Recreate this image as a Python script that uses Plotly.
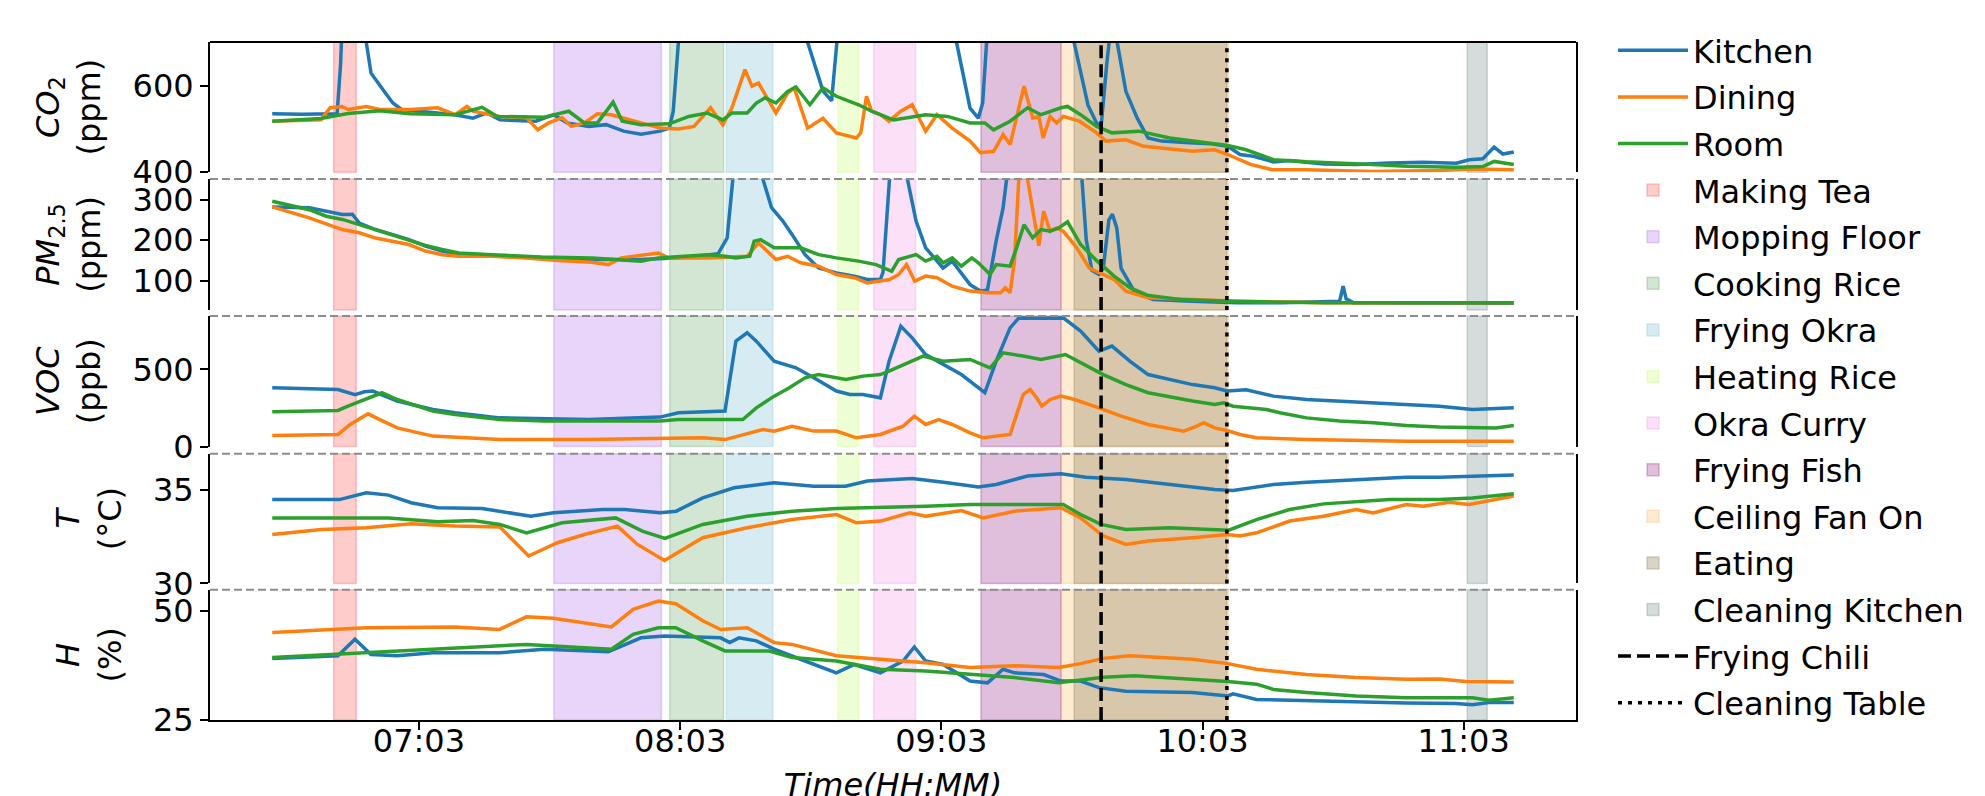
import pandas as pd
import plotly.graph_objects as go

BASE = pd.Timestamp("2023-01-01")


def to_time(minutes):
    return [BASE + pd.Timedelta(minutes=float(m)) for m in minutes]


# ---------------- data (time in minutes after midnight, value) ----------------
SERIES_NAMES = ["Kitchen", "Dining", "Room"]
SERIES_COLORS = ["#1f77b4", "#ff7f0e", "#2ca02c"]

CO2_KITCHEN = [[389.3, 535], [396, 534], [404.2, 535], [405.0, 650], [406.5, 1050], [409, 980], [410.9, 700],
               [412, 629], [415, 587], [417, 560], [419, 545], [425, 540], [431.3, 533], [435.4, 525],
               [438.6, 537], [441.6, 521], [449.8, 518], [454, 533], [457, 514], [462, 506], [466, 510],
               [470, 495], [474, 488], [478.4, 495], [480.5, 502], [481.4, 540], [482.6, 700], [485, 1200],
               [500, 1400], [510, 900], [512.3, 700], [515.8, 588], [517.8, 565], [519, 700], [520.5, 900],
               [530, 1200], [545, 900], [546.5, 700], [549.6, 548], [551.5, 525], [552.5, 560], [553.4, 700],
               [555, 1100], [570, 1000], [573.5, 700], [576.7, 555], [578.6, 515], [579.7, 505], [581, 650],
               [582.2, 760], [583.4, 700], [585.4, 587], [588, 525], [590.5, 479], [593.6, 472], [600, 468],
               [605, 466], [608.8, 460], [611.6, 441], [614.7, 437], [619.3, 424], [623, 427], [630.8, 419],
               [638.3, 418], [645.9, 421.5], [653.7, 423], [661.3, 421], [664.3, 429], [667.4, 431],
               [670, 458], [672, 442], [674.5, 447]]
CO2_DINING = [[389.3, 518], [400.5, 521.5], [402.6, 549], [405.3, 552], [406.7, 545], [410.9, 552], [414, 545],
              [421, 545], [427.3, 549], [431.3, 533], [434, 552], [435.4, 541], [441.6, 529], [447.7, 526],
              [450.3, 498], [452.8, 514], [455.9, 526], [458, 506], [461, 514], [464, 535], [467.2, 533],
              [472.3, 518], [478.4, 502], [482.6, 500], [486.2, 506], [488.2, 529], [490, 549], [492.8, 510],
              [494.9, 549], [497.9, 637], [499.5, 599], [501, 606], [502.5, 579], [505, 537], [507.7, 583],
              [509.2, 595], [512.3, 502], [515.8, 525], [518.9, 491], [523.5, 479], [524.5, 491], [525.8, 575.5],
              [527, 541], [529, 533], [531, 518], [533.7, 541], [536.3, 556], [539.4, 495], [542, 533],
              [545.5, 502], [549.6, 472], [552, 445], [555, 448.5], [557.2, 487], [558.8, 464], [560.3, 525],
              [562, 599], [564, 525], [565.4, 529], [566.4, 479], [568, 529], [569.5, 514], [571, 529],
              [574.7, 518], [578.7, 491], [580.8, 472], [585.4, 475], [589.5, 460], [593.6, 456], [600.7, 448.5],
              [605.8, 452], [608.8, 441], [614, 418], [619, 406], [626.9, 406], [642, 402], [657.4, 404],
              [665, 407.6], [674.5, 406]]
CO2_ROOM = [[389.3, 518], [400.5, 524], [406.7, 535.5], [414, 542], [421, 535], [431.3, 533], [437.5, 550],
            [441, 529], [451.8, 527], [457.4, 541], [461, 514], [464, 514], [467.6, 562], [469.7, 518],
            [474, 510], [480.5, 512], [485, 529], [489.2, 537], [492.8, 521], [494.9, 537], [498.4, 537],
            [500.5, 560], [502.5, 572], [505, 560], [507.7, 587], [509.6, 597], [512.8, 556], [515.8, 595],
            [518.9, 575.5], [524, 556], [527, 541], [532, 521], [539.4, 533], [544.4, 529], [549.6, 514],
            [553, 514], [555, 498], [558.8, 518], [562.8, 549], [565.9, 533], [570.5, 549], [572, 552],
            [575, 533], [578.7, 506], [582.2, 491], [588.4, 495], [595.5, 479], [608.8, 462], [613, 452],
            [619.3, 429], [626.9, 424], [634.5, 420], [642, 418], [649.9, 414], [661.3, 411.6], [667.4, 413],
            [670, 425], [674.5, 418]]

PM_KITCHEN = [[389.3, 282], [397.8, 280], [405.4, 263], [407.7, 264], [409.3, 242], [413, 226], [416.8, 214],
              [420.7, 201], [424.5, 185], [428.3, 173], [432.2, 164], [443.6, 160], [451.2, 156], [462.7, 152],
              [474, 152], [481.8, 156], [488.2, 162], [491.7, 166], [493.8, 205], [494.9, 330], [496, 450],
              [500, 500], [502, 351], [504, 280], [506.6, 247], [508.7, 214], [511.7, 164], [514.8, 131],
              [518.9, 119], [523, 111], [526, 102.5], [529, 102.5], [529.6, 120], [531.1, 351], [533, 450],
              [535.2, 351], [537.2, 247], [539.4, 181], [541.4, 156], [543.4, 131], [545.5, 148], [549.6, 90],
              [552, 74], [553.6, 77], [555.6, 198], [557.2, 280], [558, 351], [560, 500], [574, 450],
              [575.3, 351], [576.3, 200], [577.6, 125], [579.2, 115], [580.2, 131], [581.5, 250], [582.3, 264],
              [583.3, 230], [584.3, 130], [587.3, 74], [591.6, 53], [600.7, 49], [610.9, 45], [621.2, 45],
              [634.5, 49], [635.3, 86], [636, 55], [637.7, 45], [674.5, 44]]
PM_DINING = [[389.3, 282], [397.8, 255], [405.4, 226], [409.3, 218], [413, 205], [416.8, 197], [420.7, 189],
             [424.5, 173], [428.3, 164], [432.2, 160], [439.8, 160], [447.5, 156], [455, 149.5], [462.7, 145],
             [466.5, 139.5], [469.5, 156], [478, 168], [480.3, 156], [489.5, 156], [498.4, 160], [501, 193],
             [505, 152], [507.7, 160], [510.7, 144], [514.8, 135.5], [518.9, 115], [523, 107], [526, 94],
             [531.1, 102.5], [533.2, 115], [535, 139.5], [536.9, 98.5], [539.4, 111], [542, 107], [545.5, 86],
             [549.6, 74], [553.6, 70], [556.6, 70], [557.7, 82], [558.8, 70], [559.8, 148], [560.8, 351],
             [561.8, 380], [562.8, 351], [564, 280], [565.4, 186], [566.5, 271], [568, 222], [569.5, 230],
             [571, 222], [574.1, 181], [577, 131], [580.2, 115], [582.7, 102.5], [585.4, 74], [588.6, 65],
             [590.5, 57.5], [600.7, 53], [610.9, 49], [631.4, 45], [674.5, 45]]
PM_ROOM = [[389.3, 296], [397.8, 275], [401.7, 259], [405.4, 251], [409.3, 238], [413, 226], [416.8, 212],
           [420.7, 201], [424.5, 187], [428.3, 177], [432.2, 168], [439.8, 164], [451.2, 158], [462.7, 156],
           [470.3, 152], [474, 148], [478, 156], [489.5, 164], [493.3, 160], [495.8, 156], [499, 160],
           [500, 197], [501.5, 201], [504.6, 181], [510.7, 181], [514.8, 164], [518.9, 156], [524, 148],
           [528, 139.5], [531.6, 123], [533.2, 152], [537.2, 164], [539.4, 148], [542, 160], [543.4, 144],
           [545.5, 156], [547.6, 135.5], [550, 156], [551.5, 144], [554.2, 115], [555.6, 139.5], [558.8, 135.5],
           [560.3, 181], [562, 238], [564, 205.5], [565.9, 226], [568, 222], [570, 230], [572, 245], [575, 189],
           [578.8, 148], [582.7, 111], [586.4, 82], [590.3, 64], [597.8, 53], [609.3, 49], [631.4, 45],
           [674.5, 45]]

VOC_KITCHEN = [[389.3, 381], [404.4, 370], [408.3, 337], [410.5, 355], [412.4, 360], [418, 295], [426.2, 240],
               [431.3, 219], [441.6, 186], [451.8, 182], [462, 175], [478.4, 191], [482.6, 219], [493.3, 230],
               [495.8, 684], [498.4, 738], [500.5, 684], [504.6, 554], [509.6, 511], [513.7, 446], [518.9, 360],
               [522, 338], [525, 338], [529, 316], [531, 554], [533.7, 781], [536.3, 705], [539.4, 597],
               [543.4, 532], [547.6, 467], [553, 349], [555.6, 554], [558.8, 770], [560.8, 835], [564.9, 832],
               [571, 835], [575, 749], [579.2, 619], [582.2, 652], [586.3, 554], [590.5, 467], [595.5, 435],
               [600.7, 402], [605.8, 381], [608.6, 360], [613, 368], [619.3, 327], [626.9, 305], [634.5, 295],
               [642.2, 284], [649.8, 273], [657.4, 262], [665, 240], [672.6, 251], [674.5, 251]]
VOC_DINING = [[389.3, 71], [404.4, 78], [407.2, 143], [411.3, 212], [414, 175], [418, 121], [426.2, 67.5],
              [441.6, 45], [462, 45], [482.6, 56.5], [488.2, 56.5], [493.3, 45], [502, 110], [504.6, 100],
              [508.7, 132], [513.7, 100], [518.9, 100], [523.5, 56.5], [529, 78], [534.2, 132], [536.8, 197],
              [539.4, 143], [542.4, 175], [545.5, 143], [549.6, 89], [552.6, 56.5], [558.8, 78], [559.8, 165],
              [561.8, 337], [563.4, 370], [564.9, 316], [566.1, 262], [568, 305], [570.5, 327], [573.6, 305],
              [579.2, 251], [584.3, 197], [590.5, 143], [598.7, 100], [601.7, 132], [603.3, 154], [605.8, 121],
              [608.6, 104], [611.6, 78], [615.4, 56.5], [626.9, 45], [649.8, 35], [674.5, 35]]
VOC_ROOM = [[389.3, 225], [404.4, 234], [406.7, 262], [410, 300], [414.5, 349], [418, 305], [426.2, 230],
            [431.3, 208], [441.6, 175], [451.8, 165], [478.4, 165], [482.6, 175], [488.2, 175], [497.4, 175],
            [500.5, 251], [504.6, 327], [508, 380], [511.7, 446], [514.8, 467], [521.1, 435], [525, 457],
            [529, 467], [531, 489], [535.2, 543], [538.8, 587], [543.4, 554], [549.6, 565], [554.2, 511],
            [557.2, 608], [561.8, 587], [565.9, 565], [571.5, 597], [575, 543], [580.2, 467], [585.4, 402],
            [590.5, 349], [600.7, 295], [605.8, 273], [607.9, 284], [610, 262], [617.7, 240], [620.8, 219],
            [626.9, 186], [634.5, 165], [642.2, 154], [649.8, 136], [657.4, 126], [665, 126], [670.4, 121],
            [674.5, 136]]

T_KITCHEN = [[389.3, 34.49], [404.7, 34.49], [410.9, 34.85], [416, 34.73], [421.2, 34.32], [427.3, 34.05],
             [437.5, 34.01], [441.6, 33.87], [448.7, 33.6], [453.9, 33.78], [465.2, 33.96], [470.3, 33.96],
             [478.4, 33.78], [482.1, 33.87], [488.2, 34.58], [495.4, 35.12], [504.6, 35.39], [513.7, 35.21],
             [521, 35.21], [526, 35.48], [536.3, 35.62], [544.4, 35.39], [551.5, 35.17], [555.6, 35.3],
             [562.8, 35.75], [570.5, 35.87], [576.2, 35.69], [585.4, 35.56], [595.5, 35.3], [605.8, 35.03],
             [610, 34.98], [619.3, 35.3], [626.9, 35.42], [634.5, 35.51], [642.2, 35.56], [649.8, 35.69],
             [657.4, 35.69], [665, 35.75], [674.5, 35.8]]
T_DINING = [[389.3, 32.62], [400.6, 32.89], [410.9, 32.98], [421.2, 33.19], [431.3, 33.07], [441.6, 33.02],
            [448.2, 31.47], [454.8, 32.18], [461, 32.62], [468.6, 33.07], [473.2, 32.09], [479.4, 31.23],
            [488.2, 32.45], [498.4, 32.98], [508.7, 33.42], [518.9, 33.69], [523.5, 33.25], [529, 33.34],
            [535.8, 33.78], [539.4, 33.6], [547.6, 33.9], [552.6, 33.51], [559.8, 33.87], [570.5, 34.05],
            [575, 33.51], [580.2, 32.54], [585.4, 32.09], [590.5, 32.27], [600.7, 32.45], [608.8, 32.62],
            [611.6, 32.54], [615.4, 32.71], [623, 33.34], [630.8, 33.6], [638.3, 33.96], [642.2, 33.78],
            [649.8, 34.23], [653.7, 34.14], [659.7, 34.35], [664.3, 34.23], [674.5, 34.68]]
T_ROOM = [[389.3, 33.51], [416, 33.51], [427.3, 33.3], [435.4, 33.37], [441.6, 33.16], [447.7, 32.71],
          [455.9, 33.25], [468.2, 33.51], [474.3, 32.8], [479.5, 32.41], [488.2, 33.16], [498.4, 33.6],
          [508.7, 33.87], [518.9, 34.01], [539.4, 34.14], [549.6, 34.23], [571, 34.23], [575, 33.69],
          [579.7, 33.16], [585.4, 32.89], [595.5, 32.98], [609, 32.85], [615.4, 33.42], [623, 33.96],
          [630.8, 34.26], [638.3, 34.37], [646, 34.49], [657.4, 34.49], [665, 34.58], [674.5, 34.8]]

H_KITCHEN = [[389.3, 39.1], [404.4, 39.7], [408.3, 43.5], [412, 40.0], [418, 39.7], [426.2, 40.4],
             [441.6, 40.4], [451.8, 41.2], [466.5, 40.6], [474, 43.8], [479.4, 44.2], [482, 44.1],
             [492.3, 43.8], [494.4, 42.7], [496.5, 43.8], [500.5, 43.1], [504.6, 41.2], [511.7, 38.5],
             [518.9, 35.8], [523, 37.7], [529, 35.8], [534.2, 38.5], [536.8, 41.7], [539.4, 38.5],
             [543.4, 37.7], [549.6, 33.9], [553.6, 33.5], [557.2, 36.6], [559.8, 35.8], [566.5, 35.4],
             [570.5, 33.9], [575, 33.9], [579.2, 32.4], [585.4, 31.6], [600.7, 31.3], [608.8, 30.5],
             [610, 31.0], [615.4, 29.7], [626.9, 29.4], [638.3, 29.0], [649.8, 28.9], [661.3, 28.8],
             [665, 28.5], [668.8, 29.0], [674.5, 29.0]]
H_DINING = [[389.3, 45.0], [410.9, 46.1], [431.3, 46.3], [441.4, 45.7], [447.7, 48.6], [453.9, 48.3],
            [467.2, 46.3], [472.2, 50.3], [478, 52.2], [482, 51.6], [488.2, 47.7], [492.3, 45.7], [498.4, 46.1],
            [504.6, 42.7], [508.7, 42.3], [518.9, 39.7], [529, 38.9], [539.4, 38.1], [549.6, 37.0],
            [559.8, 37.4], [570, 37.0], [575, 37.9], [580.2, 39.1], [586.3, 39.7], [600.7, 38.9], [608.8, 37.9],
            [615.4, 36.6], [626.9, 35.4], [638.3, 34.7], [649.8, 34.3], [657.4, 34.4], [663.5, 33.8],
            [674.5, 33.7]]
H_ROOM = [[389.3, 39.3], [410.9, 40.4], [431.3, 41.6], [447.7, 42.3], [467.2, 41.2], [472.2, 44.6],
          [478, 46.1], [482, 46.1], [488.2, 43.1], [493.3, 40.8], [503.5, 40.8], [508.7, 39.3], [518.9, 38.5],
          [529, 36.6], [539.4, 36.2], [549.6, 35.4], [559.8, 34.7], [570, 33.5], [580.2, 34.8], [587.4, 35.1],
          [600.7, 34.3], [608.8, 33.8], [615.4, 33.2], [619.3, 32.0], [626.9, 31.3], [638.3, 30.5],
          [649.8, 30.1], [665, 30.1], [668.8, 29.5], [674.5, 30.1]]

PANEL_TITLES = ["<i>CO</i><sub>2</sub><br>(ppm)", "<i>PM</i><sub>2.5</sub><br>(ppm)", "<i>VOC</i><br>(ppb)",
                "<i>T</i><br>(°C)", "<i>H</i><br>(%)"]
PANEL_RANGES = [[400, 701], [27.6, 351], [0, 848], [30, 36.94], [25, 54.8]]
PANEL_TICKS = [[400, 600], [100, 200, 300], [0, 500], [30, 35], [25, 50]]
PANEL_DATA = [[CO2_KITCHEN, CO2_DINING, CO2_ROOM], [PM_KITCHEN, PM_DINING, PM_ROOM],
              [VOC_KITCHEN, VOC_DINING, VOC_ROOM], [T_KITCHEN, T_DINING, T_ROOM],
              [H_KITCHEN, H_DINING, H_ROOM]]

EVENT_NAMES = ["Making Tea", "Mopping Floor", "Cooking Rice", "Frying Okra", "Heating Rice", "Okra Curry",
               "Frying Fish", "Ceiling Fan On", "Eating", "Cleaning Kitchen"]
EVENT_START = [403.4, 454.0, 480.6, 493.6, 519.2, 527.5, 552.1, 570.5, 573.5, 663.8]
EVENT_END = [408.6, 478.7, 493.0, 504.3, 524.0, 537.1, 570.5, 609.0, 608.6, 668.4]
EVENT_COLORS = ["rgba(255,0,0,0.2)", "rgba(138,43,226,0.2)", "rgba(20,120,20,0.19)", "rgba(173,216,230,0.5)",
                "rgba(173,255,47,0.2)", "rgba(240,100,215,0.2)", "rgba(128,0,110,0.25)",
                "rgba(255,150,30,0.2)", "rgba(160,147,112,0.4)", "rgba(47,79,79,0.2)"]

MARKER_NAMES = ["Frying Chili", "Cleaning Table"]
MARKER_TIMES = [579.7, 608.6]
MARKER_DASH = ["13px,6px", "4px,6px"]

X_RANGE = [375.0, 688.8]
X_TICKS = [423, 483, 543, 603, 663]
X_TICK_LABELS = ["07:03", "08:03", "09:03", "10:03", "11:03"]

FONT = "DejaVu Sans"

# ---------------- layout geometry ----------------
TOP_PX, BOTTOM_PX, H_PX = 34, 712.3, 796
PLOT_H = BOTTOM_PX - TOP_PX
PANEL_PX = [(34, 164.3), (171, 302), (308, 438.7), (446, 575.7), (582, 712.3)]


def frac(px):
    return 1 - (px - TOP_PX) / PLOT_H


fig = go.Figure()

for i, series_list in enumerate(PANEL_DATA):
    yname = "y" if i == 0 else f"y{i + 1}"
    for j, pts in enumerate(series_list):
        fig.add_trace(go.Scatter(
            x=to_time([p[0] for p in pts]), y=[p[1] for p in pts],
            mode="lines", line=dict(color=SERIES_COLORS[j], width=3.5),
            name=SERIES_NAMES[j], legendgroup=SERIES_NAMES[j], showlegend=(i == 0),
            legendrank=j + 1, xaxis="x", yaxis=yname, hoverinfo="skip"))

shapes = []
for i in range(5):
    yref = "y domain" if i == 0 else f"y{i + 1} domain"
    for k, name in enumerate(EVENT_NAMES):
        shapes.append(dict(type="rect", xref="x", yref=yref,
                           x0=BASE + pd.Timedelta(minutes=EVENT_START[k]),
                           x1=BASE + pd.Timedelta(minutes=EVENT_END[k]), y0=0, y1=1,
                           fillcolor=EVENT_COLORS[k], line=dict(color=EVENT_COLORS[k], width=1.5),
                           layer="below", name=name, showlegend=(i == 0), legendrank=4 + k,
                           legendgroup=name))
    for k, name in enumerate(MARKER_NAMES):
        t = BASE + pd.Timedelta(minutes=MARKER_TIMES[k])
        shapes.append(dict(type="line", xref="x", yref=yref, x0=t, x1=t, y0=0, y1=1,
                           line=dict(color="black", width=3.5, dash=MARKER_DASH[k]),
                           layer="above", name=name, showlegend=(i == 0), legendrank=14 + k,
                           legendgroup=name))
    if i > 0:
        shapes.append(dict(type="line", xref="paper", yref=yref, x0=0, x1=1, y0=1, y1=1,
                           line=dict(color="#8c8c8c", width=2, dash="8px,4px"), layer="above"))
shapes.append(dict(type="line", xref="paper", yref="y domain", x0=0, x1=1, y0=1, y1=1,
                   line=dict(color="black", width=2), layer="above"))

LEGEND_ITEMWIDTH = 70
layout = dict(
    width=1985, height=H_PX, template="none",
    paper_bgcolor="white", plot_bgcolor="white",
    margin=dict(l=202, r=417, t=TOP_PX, b=H_PX - BOTTOM_PX, pad=0),
    font=dict(family=FONT, size=32, color="black"),
    showlegend=True,
    legend=dict(x=(1693 - 18 - LEGEND_ITEMWIDTH - 202) / 1366, y=1.028, xanchor="left", yanchor="top",
                font=dict(family=FONT, size=32, color="black"), bgcolor="rgba(0,0,0,0)",
                itemwidth=LEGEND_ITEMWIDTH, tracegroupgap=2, traceorder="grouped", maxheight=790),
    shapes=shapes,
    xaxis=dict(domain=[0, 1], anchor="y5", type="date",
               range=[BASE + pd.Timedelta(minutes=X_RANGE[0]), BASE + pd.Timedelta(minutes=X_RANGE[1])],
               tickvals=to_time(X_TICKS), ticktext=X_TICK_LABELS,
               showline=True, linecolor="black", linewidth=2, mirror=False,
               ticks="outside", ticklen=8, tickwidth=2, tickcolor="black", ticklabelstandoff=-16,
               showgrid=False, zeroline=False, tickfont=dict(family=FONT, size=32),
               title=dict(text="<i>Time(HH:MM)</i>", font=dict(family=FONT, size=32), standoff=30)),
)
for i in range(5):
    key = "yaxis" if i == 0 else f"yaxis{i + 1}"
    top, bot = PANEL_PX[i]
    layout[key] = dict(domain=[frac(bot), frac(top)], anchor="x", range=PANEL_RANGES[i],
                       tickvals=PANEL_TICKS[i], showline=True, linecolor="black", linewidth=2,
                       mirror=True, ticks="outside", ticklen=8, tickwidth=2, tickcolor="black",
                       showgrid=False, zeroline=False, tickfont=dict(family=FONT, size=32),
                       title=dict(text=PANEL_TITLES[i], font=dict(family=FONT, size=32), standoff=22))

fig.update_layout(**layout)
fig.write_html("out.html")
